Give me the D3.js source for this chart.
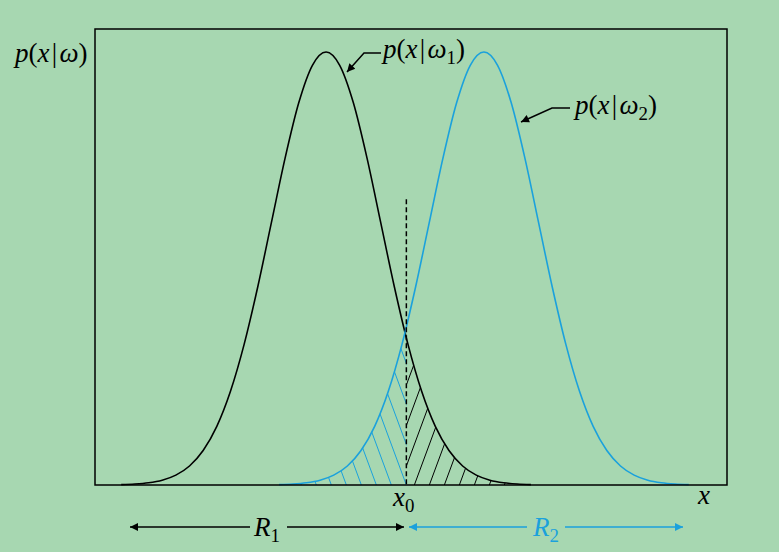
<!DOCTYPE html>
<html><head><meta charset="utf-8">
<script src="https://cdn.jsdelivr.net/npm/d3@7"></script>
<style>
html,body{margin:0;padding:0;background:#a7d7b1;}
svg{display:block;}
text{font-family:"Liberation Serif","Times New Roman",serif;}
</style></head>
<body>
<svg id="chart" width="779" height="552"></svg>
<script>
// ---- data (σ = 1 unit, densities normalised to peak = 1) ----
const xDomain = [0, 11.57];
const yDomain = [0, 1.053];
const x0Value = 5.7;          // decision threshold
const dashTopValue = 0.66;    // top of dashed threshold line
const class1X = [0.48,0.73,0.98,1.23,1.48,1.73,1.98,2.23,2.48,2.73,2.98,3.23,3.48,3.73,3.98,4.23,4.48,4.73,4.98,5.23,5.48,5.73,5.98,6.23,6.48,6.73,6.98,7.23,7.48,7.73,7.98];
const class1Y = [0.0009,0.0022,0.0051,0.0111,0.0228,0.0439,0.0796,0.1353,0.2163,0.3247,0.4578,0.6065,0.7548,0.8825,0.9692,1.0,0.9692,0.8825,0.7548,0.6065,0.4578,0.3247,0.2163,0.1353,0.0796,0.0439,0.0228,0.0111,0.0051,0.0022,0.0009];
const class2X = [3.37,3.62,3.87,4.12,4.37,4.62,4.87,5.12,5.37,5.62,5.87,6.12,6.37,6.62,6.87,7.12,7.37,7.62,7.87,8.12,8.37,8.62,8.87,9.12,9.37,9.62,9.87,10.12,10.37,10.62,10.87];
const class2Y = [0.0009,0.0022,0.0051,0.0111,0.0228,0.0439,0.0796,0.1353,0.2163,0.3247,0.4578,0.6065,0.7548,0.8825,0.9692,1.0,0.9692,0.8825,0.7548,0.6065,0.4578,0.3247,0.2163,0.1353,0.0796,0.0439,0.0228,0.0111,0.0051,0.0022,0.0009];

const BLUE = "#1ba1dc";
const svg = d3.select("#chart");
const L = 95, R = 727, T = 29, B = 485;
const xs = d3.scaleLinear().domain(xDomain).range([L, R]);
const ys = d3.scaleLinear().domain(yDomain).range([B, T]);

const pts1 = class1X.map((v,i)=>[v, class1Y[i]]);
const pts2 = class2X.map((v,i)=>[v, class2Y[i]]);
const line = d3.line().x(d=>xs(d[0])).y(d=>ys(d[1])).curve(d3.curveMonotoneX);
const area = d3.area().x(d=>xs(d[0])).y0(ys(0)).y1(d=>ys(d[1])).curve(d3.curveMonotoneX);

const defs = svg.append("defs");
defs.append("clipPath").attr("id","leftRect").append("rect")
  .attr("x", L).attr("y", T).attr("width", xs(x0Value)-L).attr("height", B-T);
defs.append("clipPath").attr("id","rightRect").append("rect")
  .attr("x", xs(x0Value)).attr("y", T).attr("width", R-xs(x0Value)).attr("height", B-T);
defs.append("clipPath").attr("id","under2").append("path").attr("d", area(pts2));
defs.append("clipPath").attr("id","under1").append("path").attr("d", area(pts1));

const xc = xs(x0Value);
const k = 0.37;
// blue hatch (left of x0, under class-2 curve)
const gB = svg.append("g").attr("clip-path","url(#leftRect)").append("g").attr("clip-path","url(#under2)");
for (let i = -12; i < 12; i++) {
  const xb = xc - 15*i;
  gB.append("line").attr("x1", xb).attr("y1", B).attr("x2", xb - k*(B-T)).attr("y2", T)
    .attr("stroke", BLUE).attr("stroke-width", 1);
}
// black hatch (right of x0, under class-1 curve)
const gK = svg.append("g").attr("clip-path","url(#rightRect)").append("g").attr("clip-path","url(#under1)");
for (let i = -12; i < 12; i++) {
  const xb = xc + 8 + 15*i;
  gK.append("line").attr("x1", xb).attr("y1", B).attr("x2", xb + k*(B-T)).attr("y2", T)
    .attr("stroke", "#000").attr("stroke-width", 1);
}

// curves
svg.append("path").attr("d", line(pts1)).attr("fill","none").attr("stroke","#000").attr("stroke-width",1.6);
svg.append("path").attr("d", line(pts2)).attr("fill","none").attr("stroke",BLUE).attr("stroke-width",1.6);

// dashed threshold
svg.append("line").attr("x1", xc).attr("x2", xc).attr("y1", ys(dashTopValue)).attr("y2", B)
  .attr("stroke","#000").attr("stroke-width",1.5).attr("stroke-dasharray","5,3");

// frame
svg.append("rect").attr("x", L).attr("y", T).attr("width", R-L).attr("height", B-T)
  .attr("fill","none").attr("stroke","#000").attr("stroke-width",1.5);

// arrow markers
function marker(id, color){
  defs.append("marker").attr("id", id).attr("viewBox","0 0 10 10").attr("refX",10).attr("refY",5)
    .attr("markerWidth",14).attr("markerHeight",8).attr("markerUnits","userSpaceOnUse").attr("orient","auto")
    .append("path").attr("d","M0,0 L10,5 L0,10 Z").attr("fill", color);
}
marker("arrK","#000"); marker("arrB", BLUE);
function smallMarker(id){
  defs.append("marker").attr("id", id).attr("viewBox","0 0 10 10").attr("refX",10).attr("refY",5)
    .attr("markerWidth",12).attr("markerHeight",8).attr("markerUnits","userSpaceOnUse").attr("orient","auto")
    .append("path").attr("d","M0,0 L10,5 L0,10 Z").attr("fill","#000");
}
smallMarker("arrS");

// text helper: parts [text, italic?, sub?, resetDy?]
function label(x, y, parts, size, color, anchor){
  const t = svg.append("text").attr("x", x).attr("y", y).attr("font-size", size)
    .attr("fill", color || "#000").attr("text-anchor", anchor || "start");
  parts.forEach(p => {
    const s = t.append("tspan").text(p[0]).attr("font-style", p[1] ? "italic" : "normal");
    if (p[2]) s.attr("font-size", size*0.7).attr("dy", size*0.22);
    if (p[3]) s.attr("dy", -size*0.22);
  });
  return t;
}
const SEP = "\u200A|\u200A";
label(15, 62, [["p",1],["(",0],["x",1],[SEP,0],["ω",1],[")",0]], 27);
label(383, 58, [["p",1],["(",0],["x",1],[SEP,0],["ω",1],["1",0,1],[")",0,0,1]], 27);
label(575, 114, [["p",1],["(",0],["x",1],[SEP,0],["ω",1],["2",0,1],[")",0,0,1]], 27);

// leaders
svg.append("path").attr("d","M381,53 L364,53 L347,72").attr("fill","none").attr("stroke","#000")
  .attr("stroke-width",1.5).attr("marker-end","url(#arrS)");
svg.append("path").attr("d","M570,108 L552,108 L521,122").attr("fill","none").attr("stroke","#000")
  .attr("stroke-width",1.5).attr("marker-end","url(#arrS)");

// axis labels
label(393, 506, [["x",1],["0",0,1]], 27);
label(698, 504, [["x",1]], 27);

// region arrows
const yA = 527;
svg.append("line").attr("x1",250).attr("x2",130).attr("y1",yA).attr("y2",yA)
  .attr("stroke","#000").attr("stroke-width",1.5).attr("marker-end","url(#arrK)");
svg.append("line").attr("x1",287).attr("x2",404).attr("y1",yA).attr("y2",yA)
  .attr("stroke","#000").attr("stroke-width",1.5).attr("marker-end","url(#arrK)");
label(254, 536, [["R",1],["1",0,1]], 27);
svg.append("line").attr("x1",527).attr("x2",409).attr("y1",yA).attr("y2",yA)
  .attr("stroke",BLUE).attr("stroke-width",1.5).attr("marker-end","url(#arrB)");
svg.append("line").attr("x1",565).attr("x2",683).attr("y1",yA).attr("y2",yA)
  .attr("stroke",BLUE).attr("stroke-width",1.5).attr("marker-end","url(#arrB)");
label(533, 536, [["R",1],["2",0,1]], 27, BLUE);
</script>
</body></html>
